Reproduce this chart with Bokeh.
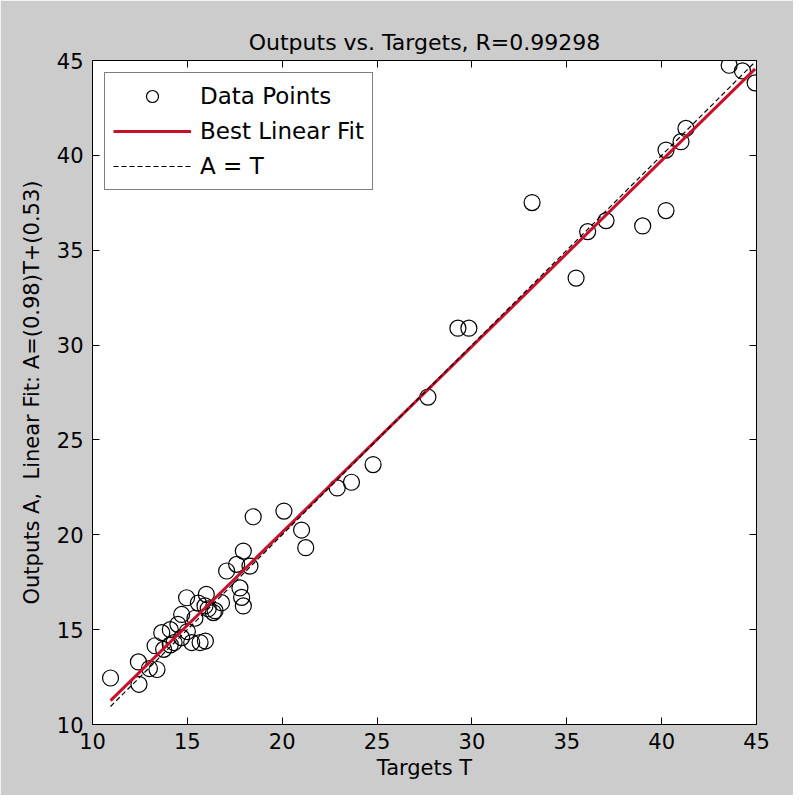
from bokeh.plotting import figure
from bokeh.models import (LinearAxis, Legend, LegendItem, CustomJSTickFormatter,
                          FixedTicker, Range1d, ColumnDataSource)
from bokeh.embed import file_html
from bokeh.resources import INLINE

# ---- data ----
targets = [10.95, 12.42, 12.45, 13.0, 13.4, 13.3, 13.65, 13.75, 14.1, 14.1,
           14.3, 14.5, 14.7, 14.7, 14.96, 15.0, 15.23, 15.4, 15.67, 15.95,
           15.58, 15.93, 16.0, 16.1, 16.37, 16.46, 16.8, 17.07, 17.6, 17.77,
           17.86, 17.95, 17.95, 18.3, 18.47, 20.09, 21.02, 21.24, 22.9, 23.65,
           24.79, 27.68, 29.26, 29.84, 33.17, 35.49, 36.1, 37.07, 39.0, 40.23,
           40.23, 41.02, 41.28, 43.56, 44.26, 44.93]
outputs = [12.45, 13.30, 12.12, 12.95, 12.9, 14.15, 14.84, 13.96, 15.0, 14.2,
           14.32, 15.28, 14.58, 15.8, 16.68, 14.9, 14.32, 15.6, 14.32, 14.4,
           16.4, 16.25, 16.86, 16.1, 15.9, 16.0, 16.42, 18.09, 18.44, 17.2,
           16.7, 16.25, 19.14, 18.35, 20.95, 21.25, 20.25, 19.32, 22.47, 22.77,
           23.7, 27.26, 30.89, 30.89, 37.51, 33.53, 35.98, 36.56, 36.28, 37.09,
           40.28, 40.72, 41.42, 44.75, 44.45, 43.82]
fit_slope = 0.98
fit_intercept = 0.53
x_ticks = [10, 15, 20, 25, 30, 35, 40, 45]
y_ticks = [10, 15, 20, 25, 30, 35, 40, 45]
title_text = "Outputs vs. Targets, R=0.99298"
x_label = "Targets T"
y_label = "Outputs A,\u00a0 Linear Fit: A=(0.98)T+(0.53)"

FONT = "DejaVu Sans"

t_min, t_max = min(targets), max(targets)
line_src = ColumnDataSource(dict(
    t=[t_min, t_max],
    fit=[fit_slope * t_min + fit_intercept, fit_slope * t_max + fit_intercept],
    ident=[t_min, t_max],
))
pts_src = ColumnDataSource(dict(t=targets, a=outputs))

p = figure(width=793, height=795, x_range=Range1d(10, 45), y_range=Range1d(10, 45),
           output_backend="svg", toolbar_location=None,
           min_border_left=92, min_border_right=37, min_border_top=60,
           min_border_bottom=71, title=title_text)

p.background_fill_color = "white"
p.border_fill_color = "#cccccc"
p.outline_line_color = "black"
p.outline_line_width = 1
p.grid.visible = False

p.title.text_font = FONT
p.title.text_font_size = "22px"
p.title.text_font_style = "normal"
p.title.text_color = "black"
p.title.align = "center"
p.title.standoff = 12

for ax, ticks in ((p.xaxis[0], x_ticks), (p.yaxis[0], y_ticks)):
    ax.ticker = FixedTicker(ticks=ticks)
    ax.major_tick_in = 7
    ax.major_tick_out = 0
    ax.minor_tick_line_color = None
    ax.axis_line_color = "black"
    ax.major_tick_line_color = "black"
    ax.major_label_text_font = FONT
    ax.major_label_text_font_size = "21px"
    ax.major_label_text_color = "black"
    ax.axis_label_text_font = FONT
    ax.axis_label_text_font_size = "21px"
    ax.axis_label_text_font_style = "normal"
    ax.axis_label_text_color = "black"

p.xaxis.axis_label = x_label
p.yaxis.axis_label = y_label
p.xaxis.major_label_standoff = 8
p.xaxis.axis_label_standoff = 4
p.yaxis.major_label_standoff = 9
p.yaxis.axis_label_standoff = 10

empty = CustomJSTickFormatter(code="return ''")
top_ax = LinearAxis(ticker=FixedTicker(ticks=x_ticks), formatter=empty,
                    major_tick_in=7, major_tick_out=0, minor_tick_line_color=None,
                    major_label_standoff=0, axis_line_color="black")
right_ax = LinearAxis(ticker=FixedTicker(ticks=y_ticks), formatter=empty,
                      major_tick_in=7, major_tick_out=0, minor_tick_line_color=None,
                      major_label_standoff=0, axis_line_color="black")
p.add_layout(top_ax, "above")
p.add_layout(right_ax, "right")

r_pts = p.scatter("t", "a", source=pts_src, marker="circle", size=16,
                  fill_color=None, line_color="black", line_width=1.2)
r_fit = p.line("t", "fit", source=line_src, line_color="#c8102a", line_width=3)
r_id = p.line("t", "ident", source=line_src, line_color="black", line_width=1.2,
              line_dash="5 3")

legend = Legend(items=[
    LegendItem(label="Data Points", renderers=[r_pts]),
    LegendItem(label="Best Linear Fit", renderers=[r_fit]),
    LegendItem(label="A = T", renderers=[r_id]),
], location="top_left", margin=12, padding=8, spacing=5,
    glyph_width=78, glyph_height=30, label_height=30, label_standoff=9,
    border_line_color="black", border_line_width=1.5,
    background_fill_color="white", background_fill_alpha=1,
    label_text_font=FONT, label_text_font_size="23px", label_text_color="black")
p.add_layout(legend)

open("out.html", "w").write(file_html(p, INLINE))
